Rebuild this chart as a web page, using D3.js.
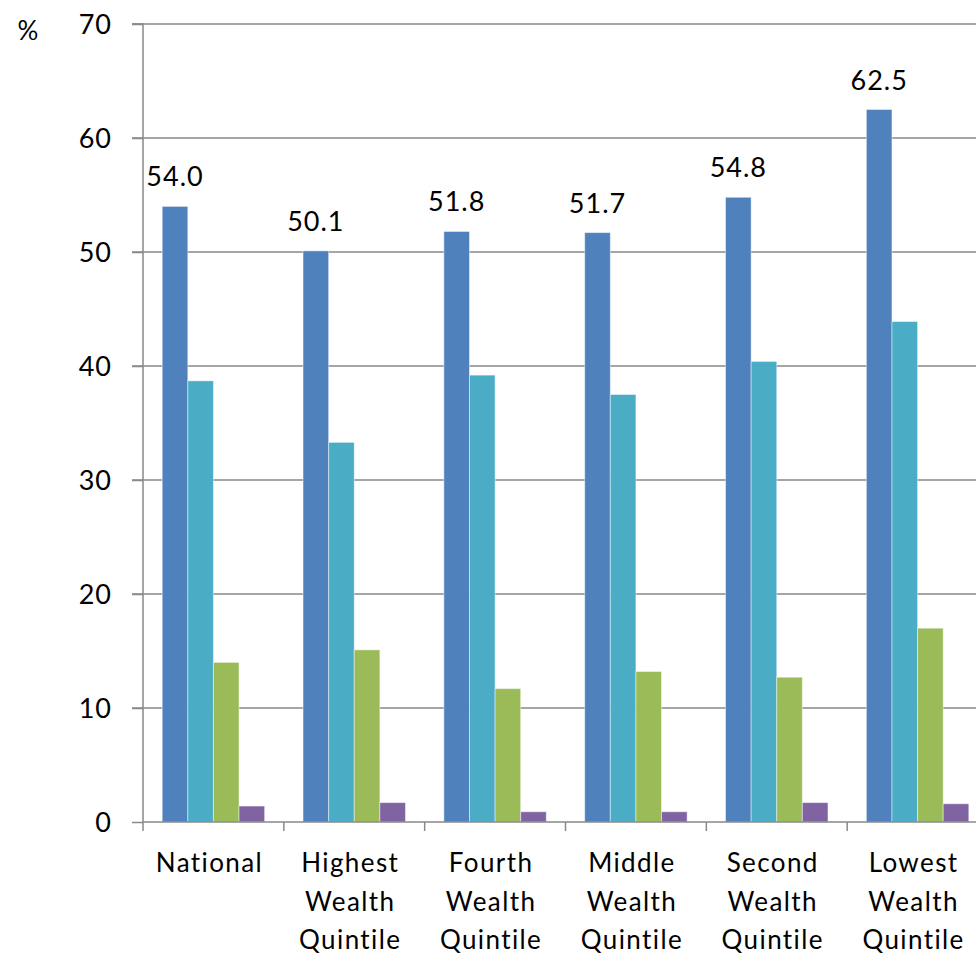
<!DOCTYPE html>
<html><head><meta charset="utf-8">
<script src="https://cdn.jsdelivr.net/npm/d3@7"></script>
<style>
html,body{margin:0;padding:0;background:#fff;overflow:hidden;}
svg{display:block;font-family:Lato,"Noto Sans",sans-serif;}
</style></head>
<body>
<svg id="chart" width="976" height="954"></svg>
<script>
const categories = [["National"],["Highest","Wealth","Quintile"],["Fourth","Wealth","Quintile"],["Middle","Wealth","Quintile"],["Second","Wealth","Quintile"],["Lowest","Wealth","Quintile"]];
const seriesNames = ["Series 1","Series 2","Series 3","Series 4"];
const series1 = [54.0, 50.1, 51.8, 51.7, 54.8, 62.5];
const series2 = [38.7, 33.3, 39.2, 37.5, 40.4, 43.9];
const series3 = [14.0, 15.1, 11.7, 13.2, 12.7, 17.0];
const series4 = [1.4, 1.7, 0.9, 0.9, 1.7, 1.6];
const colors = ["#4F81BD","#4BACC6","#9BBB59","#8064A2"];
const yTicks = [0,10,20,30,40,50,60,70];

(function(){
const svg = d3.select("#chart");
const mLeft = 143, mRight = 988, mTop = 24, mBottom = 822;
const keys = categories.map((c,i)=>i);
const x = d3.scaleBand().domain(keys).range([mLeft,mRight]).paddingInner(0).paddingOuter(0);
const bw = x.bandwidth();
const barW = bw/5.5;
const x1 = d3.scaleBand().domain(seriesNames).range([barW*0.75, barW*0.75+4*barW]).padding(0);
const y = d3.scaleLinear().domain([0,70]).range([mBottom, mTop]);
const allSeries = [series1,series2,series3,series4];

// gridlines
svg.append("g").selectAll("line").data(yTicks.filter(d=>d>0)).join("line")
  .attr("x1", mLeft-11).attr("x2", 976).attr("y1", d=>y(d)).attr("y2", d=>y(d))
  .attr("stroke","#898989").attr("stroke-width",1.5);

// y axis
const yAxis = d3.axisLeft(y).tickValues(yTicks).tickSize(11).tickPadding(20).tickFormat(d3.format("d"));
const yg = svg.append("g").attr("transform",`translate(${mLeft},0)`).call(yAxis);
yg.select(".domain").attr("stroke","#898989").attr("stroke-width",1.5).attr("d",`M-11,${mTop}H0V${mBottom}`);
yg.selectAll(".tick line").attr("stroke","#898989").attr("stroke-width",1.5);
yg.selectAll(".tick text").attr("font-size",27).attr("letter-spacing","1px").attr("fill","#000")
  .attr("font-family","Lato,'Noto Sans',sans-serif").attr("dy","0.35em");

// bars
const groups = svg.append("g").selectAll("g").data(keys).join("g")
  .attr("transform", d=>`translate(${x(d)},0)`);
groups.selectAll("rect").data(i=>allSeries.map((s,k)=>({k, v:s[i]}))).join("rect")
  .attr("x", d=>x1(seriesNames[d.k])).attr("width", x1.bandwidth())
  .attr("y", d=>y(d.v)).attr("height", d=>y(0)-y(d.v))
  .attr("fill", d=>colors[d.k]).attr("stroke","rgba(255,255,255,0.45)").attr("stroke-width",1);

// x axis
const xg = svg.append("g").attr("transform",`translate(0,${mBottom})`);
xg.append("line").attr("x1",mLeft).attr("x2",976).attr("y1",0).attr("y2",0).attr("stroke","#898989").attr("stroke-width",1.5);
xg.selectAll("line.tk").data(keys.concat([keys.length])).join("line").attr("class","tk")
  .attr("x1", d=> d<keys.length ? x(d) : mRight).attr("x2", d=> d<keys.length ? x(d) : mRight)
  .attr("y1",0).attr("y2",9).attr("stroke","#898989").attr("stroke-width",1.5);
const lbl = xg.selectAll("text.cat").data(keys).join("text").attr("class","cat")
  .attr("text-anchor","middle").attr("font-size",26).attr("letter-spacing","1.4px").attr("fill","#000");
lbl.each(function(i){
  const t = d3.select(this);
  categories[i].forEach((line,j)=>{
    t.append("tspan").attr("x", x(i)+bw/2 - 4).attr("y", 50 + j*38.5).text(line);
  });
});

// value labels for series 1
svg.append("g").selectAll("text").data(keys).join("text")
  .attr("x", i=>x(i)+x1(seriesNames[0])+x1.bandwidth()/2)
  .attr("y", i=>y(series1[i]) - 20)
  .attr("text-anchor","middle").attr("font-size",27).attr("letter-spacing","1px").attr("fill","#000")
  .text(i=>d3.format(".1f")(series1[i]));

// unit label
svg.append("text").attr("x",28).attr("y",40).attr("text-anchor","middle").attr("font-size",26).attr("fill","#000").text("%");
})();
</script>
</body></html>
